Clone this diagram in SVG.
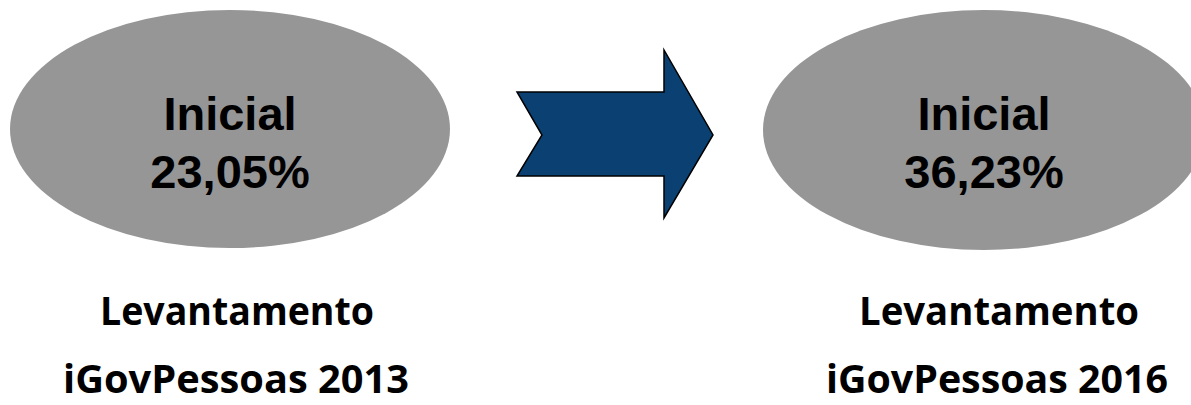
<svg xmlns="http://www.w3.org/2000/svg" width="1191" height="405" viewBox="0 0 1191 405">
<style>
.oval{fill:#969696;stroke:none}
.big{font-family:"Liberation Sans",Arial,sans-serif;font-weight:bold;font-size:47px;fill:#000;text-anchor:middle}
.lab{font-family:"Open Sans","Noto Sans",sans-serif;font-weight:bold;font-size:40px;fill:#000;text-anchor:middle}
.arrow{fill:#0B4172;stroke:#000;stroke-width:1.5;stroke-linejoin:miter}
</style>
<rect width="1191" height="405" fill="#fff"/>
<g id="node-2013">
<ellipse class="oval" cx="230" cy="129" rx="220" ry="119"/>
<text class="big" x="230" y="130">Inicial</text>
<text class="big" x="230" y="188">23,05%</text>
<text class="lab" x="237" y="325" textLength="274" lengthAdjust="spacingAndGlyphs">Levantamento</text>
<text class="lab" x="236" y="393" textLength="346" lengthAdjust="spacingAndGlyphs">iGovPessoas 2013</text>
</g>
<g id="node-2016">
<ellipse class="oval" cx="984" cy="130" rx="221" ry="120"/>
<text class="big" x="984" y="130">Inicial</text>
<text class="big" x="984" y="188">36,23%</text>
<text class="lab" x="999" y="325" textLength="280" lengthAdjust="spacingAndGlyphs">Levantamento</text>
<text class="lab" x="997" y="393" textLength="342" lengthAdjust="spacingAndGlyphs">iGovPessoas 2016</text>
</g>
<g id="connectors">
<polygon class="arrow" points="517,92 664,92 664,50 713,135 664,218 664,176 517,176 542,135"/>
</g>
</svg>
